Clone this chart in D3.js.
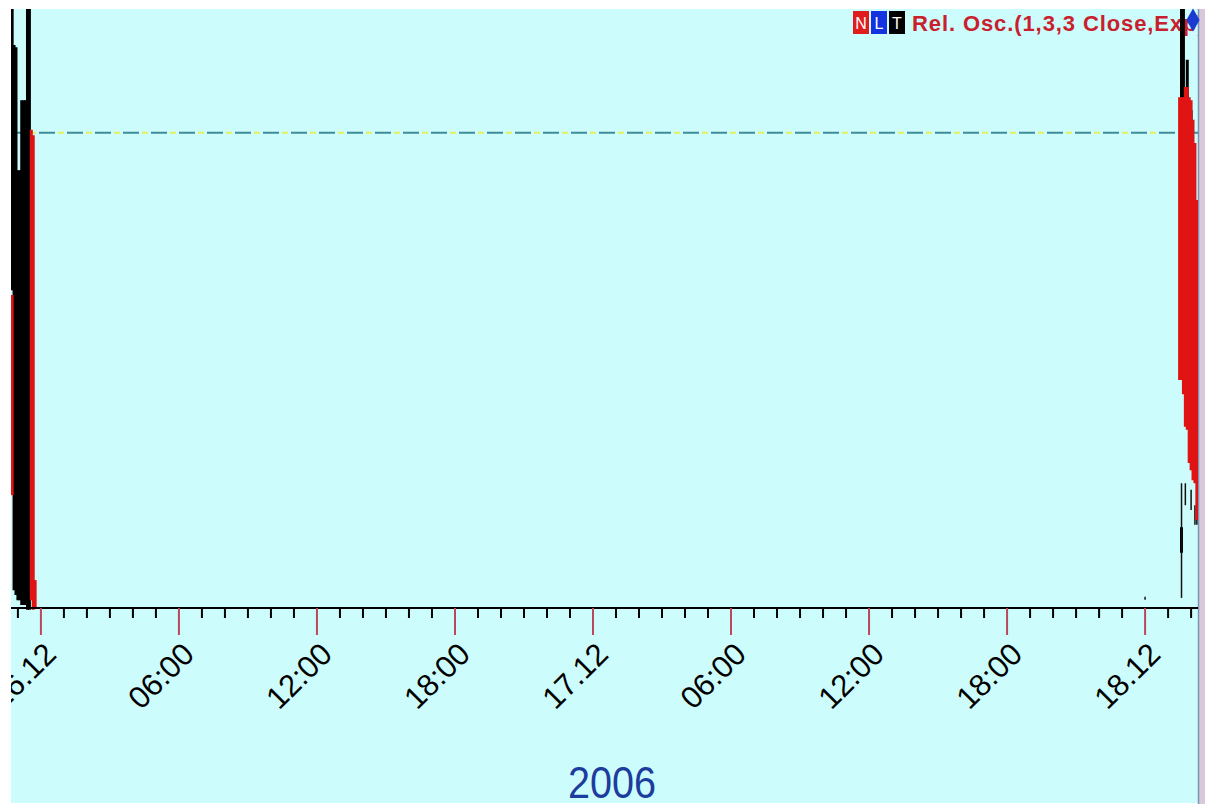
<!DOCTYPE html>
<html>
<head>
<meta charset="utf-8">
<script src="https://cdn.jsdelivr.net/npm/d3@7"></script>
<style>
  html, body { margin: 0; padding: 0; background: #fff; }
  svg { display: block; }
</style>
</head>
<body>
<div id="viz"></div>
<script>
var parseTime = d3.timeParse('%Y-%m-%d %H:%M');

// thick black segments (Rel. Osc.)
var blackTimes = ['2006-12-15 22:45','2006-12-15 22:50','2006-12-15 22:55','2006-12-15 23:00','2006-12-15 23:05',
                  '2006-12-15 23:10','2006-12-15 23:15','2006-12-15 23:20','2006-12-15 23:25','2006-12-15 23:30',
                  '2006-12-18 01:35','2006-12-18 01:40','2006-12-18 01:50','2006-12-18 02:00','2006-12-18 01:35'];
var blackHi = [101, 94.8, 94.4, 73.7, 73.7, 85.5, 85.5, 85.5, 101, 101, 101, 101, 92.3, 83.8, 13.6];
var blackLo = [53.5, 3.0, 2.2, 1.3, 1.3, 0.5, 0.5, 0.5, -0.3, -0.3, 85.9, 85.9, 78.8, 77.1, 9.3];

// thin black segments
var wickTimes = ['2006-12-18 00:00','2006-12-18 01:35','2006-12-18 01:45','2006-12-18 02:00','2006-12-18 02:10','2006-12-18 02:15'];
var wickHi = [1.9, 21.0, 21.0, 19.9, 17.3, 15.7];
var wickLo = [1.4, 1.7, 17.3, 16.5, 14.0, 14.0];

// red segments (signal)
var redTimes = ['2006-12-15 22:45','2006-12-15 23:35','2006-12-15 23:40','2006-12-15 23:45',
                '2006-12-18 01:30','2006-12-18 01:35','2006-12-18 01:40','2006-12-18 01:45','2006-12-18 01:50','2006-12-18 01:55',
                '2006-12-18 02:00','2006-12-18 02:05','2006-12-18 02:10','2006-12-18 02:15'];
var redHi = [52.7, 80.5, 79.6, 4.7, 86.0, 86.0, 86.0, 87.7, 87.7, 86.0, 85.5, 82.2, 78.3, 68.7];
var redLo = [19.0, 1.3, -0.3, 0, 38.4, 38.4, 36.0, 30.5, 30.0, 24.4, 23.2, 21.5, 21.0, 14.8];

var level = 80;
var yearLabel = '2006';
var legendText = 'Rel. Osc.(1,3,3 Close,Exp)';
var legendBoxes = ['N', 'L', 'T'];
var legendColors = ['#e01c1c', '#1432e0', '#000000'];

(function() {
var W = 1205, H = 804;
var plotL = 11, plotR = 1198, plotT = 9, axisY = 608;

var x = d3.scaleTime()
    .domain([parseTime('2006-12-15 22:42'), parseTime('2006-12-18 02:18')])
    .range([plotL, plotR]);

var y = d3.scaleLinear()
    .domain([0, 100])
    .range([axisY, 14]);

var svg = d3.select('#viz').append('svg')
    .attr('width', W)
    .attr('height', H);

var defs = svg.append('defs');
defs.append('clipPath').attr('id', 'plotclip')
    .append('rect').attr('x', plotL).attr('y', plotT).attr('width', plotR - plotL).attr('height', axisY + 3 - plotT);
defs.append('clipPath').attr('id', 'areaclip')
    .append('rect').attr('x', plotL).attr('y', plotT).attr('width', plotR - plotL).attr('height', H - plotT);

// background
svg.append('rect').attr('x', plotL).attr('y', plotT).attr('width', plotR - plotL).attr('height', H - plotT - 1)
    .attr('fill', '#cdfcfc');
svg.append('rect').attr('x', plotR).attr('y', plotT).attr('width', W - plotR).attr('height', H - plotT)
    .attr('fill', '#d8c9d8');
svg.append('line').attr('x1', plotR + 0.5).attr('x2', plotR + 0.5).attr('y1', plotT).attr('y2', H)
    .attr('stroke', '#7f93b3').attr('stroke-width', 1.5);

// legend
var legend = svg.append('g').attr('clip-path', 'url(#areaclip)');
legend.selectAll('rect.box')
    .data(legendBoxes)
    .enter().append('rect')
    .attr('class', 'box')
    .attr('x', function(d, i) { return 853 + i * 18; })
    .attr('y', 11)
    .attr('width', 16)
    .attr('height', 23)
    .attr('fill', function(d, i) { return legendColors[i]; });
legend.selectAll('text.box')
    .data(legendBoxes)
    .enter().append('text')
    .attr('class', 'box')
    .attr('x', function(d, i) { return 861 + i * 18; })
    .attr('y', 29)
    .attr('text-anchor', 'middle')
    .attr('font-family', 'Liberation Sans, Arial, sans-serif')
    .attr('font-size', 16)
    .attr('fill', '#fff')
    .text(function(d) { return d; });
legend.append('text')
    .attr('x', 912)
    .attr('y', 31)
    .attr('font-family', 'Liberation Sans, Arial, sans-serif')
    .attr('font-weight', 'bold')
    .attr('font-size', 22)
    .attr('letter-spacing', 0.9)
    .attr('fill', '#c8202c')
    .text(legendText);

// level line, dash-dot in two colours
var plot = svg.append('g').attr('clip-path', 'url(#plotclip)');
plot.append('line')
    .attr('x1', plotL).attr('x2', plotR).attr('y1', y(level)).attr('y2', y(level))
    .attr('stroke', '#3f8c98').attr('stroke-width', 2).attr('stroke-dasharray', '16,12');
plot.append('line')
    .attr('x1', plotL).attr('x2', plotR).attr('y1', y(level)).attr('y2', y(level))
    .attr('stroke', '#e4f05a').attr('stroke-width', 2).attr('stroke-dasharray', '6,22')
    .attr('stroke-dashoffset', -19);

// black bars
plot.selectAll('line.black')
    .data(blackTimes)
    .enter().append('line')
    .attr('class', 'black')
    .attr('x1', function(d) { return x(parseTime(d)); })
    .attr('x2', function(d) { return x(parseTime(d)); })
    .attr('y1', function(d, i) { return y(blackHi[i]); })
    .attr('y2', function(d, i) { return y(blackLo[i]); })
    .attr('stroke', '#000')
    .attr('stroke-width', 3);

plot.selectAll('line.wick')
    .data(wickTimes)
    .enter().append('line')
    .attr('class', 'wick')
    .attr('x1', function(d) { return x(parseTime(d)); })
    .attr('x2', function(d) { return x(parseTime(d)); })
    .attr('y1', function(d, i) { return y(wickHi[i]); })
    .attr('y2', function(d, i) { return y(wickLo[i]); })
    .attr('stroke', '#111')
    .attr('stroke-width', 1.5);

// red bars
plot.selectAll('line.red')
    .data(redTimes)
    .enter().append('line')
    .attr('class', 'red')
    .attr('x1', function(d) { return x(parseTime(d)); })
    .attr('x2', function(d) { return x(parseTime(d)); })
    .attr('y1', function(d, i) { return y(redHi[i]); })
    .attr('y2', function(d, i) { return y(redLo[i]); })
    .attr('stroke', '#e01414')
    .attr('stroke-width', 3);

// blue marker
svg.append('path')
    .attr('d', d3.symbol().type(d3.symbolDiamond).size(150)())
    .attr('transform', 'translate(1193,20)')
    .attr('fill', '#1a3ad0');

// x axis
var axis = svg.append('g').attr('clip-path', 'url(#areaclip)');
axis.append('line')
    .attr('x1', plotL).attr('x2', plotR).attr('y1', axisY).attr('y2', axisY)
    .attr('stroke', '#000').attr('stroke-width', 2);

var hours = d3.timeHour.every(1).range(x.domain()[0], x.domain()[1]);
var majors = hours.filter(function(d) { return d.getHours() % 6 === 0; });
var minors = hours.filter(function(d) { return d.getHours() % 6 !== 0; });

axis.selectAll('line.minor')
    .data(minors)
    .enter().append('line')
    .attr('class', 'minor')
    .attr('x1', function(d) { return x(d); })
    .attr('x2', function(d) { return x(d); })
    .attr('y1', axisY).attr('y2', axisY + 10)
    .attr('stroke', '#000').attr('stroke-width', 2);

axis.selectAll('line.major')
    .data(majors)
    .enter().append('line')
    .attr('class', 'major')
    .attr('x1', function(d) { return x(d); })
    .attr('x2', function(d) { return x(d); })
    .attr('y1', axisY).attr('y2', axisY + 27)
    .attr('stroke', '#b8485a').attr('stroke-width', 2);

var fmtDay = d3.timeFormat('%d.%m'), fmtHour = d3.timeFormat('%H:%M');
axis.selectAll('text.tick')
    .data(majors)
    .enter().append('text')
    .attr('class', 'tick')
    .attr('transform', function(d) { return 'translate(' + (x(d) + 17) + ',' + 656 + ') rotate(-45)'; })
    .attr('text-anchor', 'end')
    .attr('font-family', 'Liberation Sans, Arial, sans-serif')
    .attr('font-size', 31)
    .attr('fill', '#000')
    .text(function(d) { return d.getHours() === 0 ? fmtDay(d) : fmtHour(d); });

svg.append('text')
    .attr('transform', 'translate(612,798) scale(0.9,1)')
    .attr('text-anchor', 'middle')
    .attr('font-family', 'Liberation Sans, Arial, sans-serif')
    .attr('font-size', 44)
    .attr('fill', '#1c3c9e')
    .text(yearLabel);
})();
</script>
</body>
</html>
